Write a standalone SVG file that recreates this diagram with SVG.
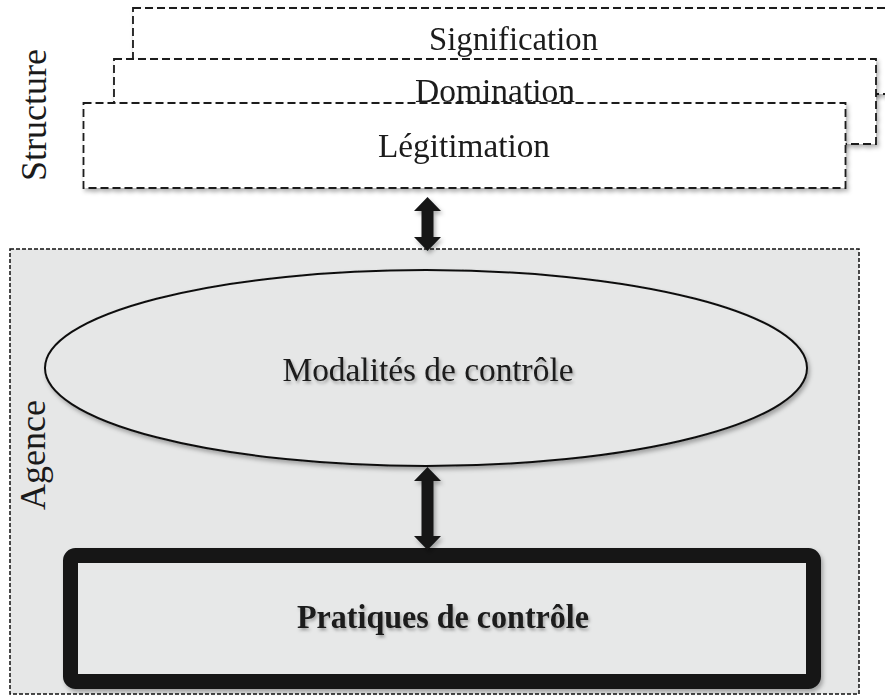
<svg xmlns="http://www.w3.org/2000/svg" width="885" height="697" viewBox="0 0 885 697">
<defs>
<filter id="sh" x="-10%" y="-10%" width="125%" height="130%">
<feDropShadow dx="2" dy="3" stdDeviation="2" flood-color="#000" flood-opacity="0.3"/>
</filter>
<filter id="tsh" x="-10%" y="-20%" width="120%" height="150%">
<feDropShadow dx="1.5" dy="2.5" stdDeviation="1.5" flood-color="#000" flood-opacity="0.3"/>
</filter>
<style>
.sbox{fill:#fff;stroke:#1a1a1a;stroke-width:1.8;stroke-dasharray:8 4;}
.lbl{font-family:"Liberation Serif","Times New Roman",serif;fill:#1a1a1a;text-anchor:middle;}
.big{font-size:33px;}
.side{font-size:36px;}
.arrow{fill:#151617;}
</style>
</defs>

<g id="structure-label">
<text class="lbl side" transform="translate(46,115) rotate(-90)">Structure</text>
</g>

<g id="signification" filter="url(#sh)">
<rect class="sbox" x="133" y="8" width="780" height="86"/>
<text class="lbl big" x="513.5" y="50" textLength="169" lengthAdjust="spacingAndGlyphs">Signification</text>
</g>

<g id="domination" filter="url(#sh)">
<rect class="sbox" x="114" y="59" width="762" height="85"/>
<text class="lbl big" x="495" y="102" textLength="160" lengthAdjust="spacingAndGlyphs">Domination</text>
</g>

<g id="legitimation" filter="url(#sh)">
<rect class="sbox" x="83.5" y="103" width="762" height="85"/>
<text class="lbl big" x="464" y="157" textLength="172" lengthAdjust="spacingAndGlyphs">Légitimation</text>
</g>

<g id="agence">
<rect x="10" y="249" width="849" height="445" fill="#e6e7e7" stroke="#111" stroke-width="1.5" stroke-dasharray="4 2"/>
<text class="lbl side" transform="translate(45,455) rotate(-90)">Agence</text>
</g>

<g id="modalites">
<ellipse cx="426" cy="368" rx="381" ry="98" fill="#e6e7e7" stroke="#111" stroke-width="2" filter="url(#sh)"/>
<text class="lbl" x="428" y="381" font-size="33" textLength="291" lengthAdjust="spacingAndGlyphs" filter="url(#tsh)">Modalités de contrôle</text>
</g>

<g id="pratiques">
<rect x="70.5" y="555.5" width="743" height="126" rx="5" fill="#e7e8e8" stroke="#161718" stroke-width="15" filter="url(#sh)"/>
<text class="lbl" x="443" y="628" font-size="33" font-weight="bold" textLength="292" lengthAdjust="spacingAndGlyphs" filter="url(#tsh)">Pratiques de contrôle</text>
</g>

<g id="connectors" filter="url(#sh)">
<path class="arrow" d="M427.5,197 L441,211 L433.5,211 L433.5,237 L441,237 L427.5,251 L414,237 L421.5,237 L421.5,211 L414,211 Z"/>
<path class="arrow" d="M427.5,467 L441,481 L433.5,481 L433.5,536 L441,536 L427.5,550 L414,536 L421.5,536 L421.5,481 L414,481 Z"/>
</g>
</svg>
